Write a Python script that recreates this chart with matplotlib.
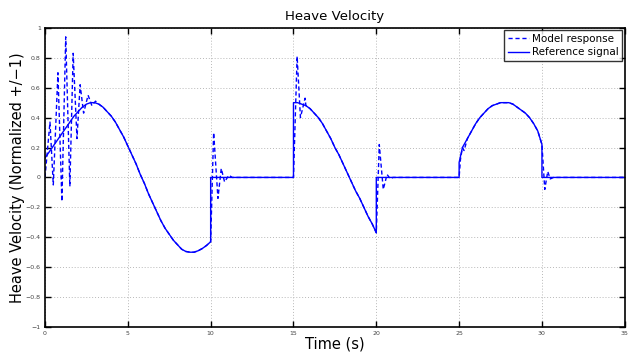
import numpy as np
import matplotlib
matplotlib.use('Agg')
import matplotlib.pyplot as plt

# Reference signal
ref_t = [0.0, 0.25, 0.5, 0.75, 1.0, 1.25, 1.5, 1.75, 2.0, 2.25, 2.5, 2.75, 3.0, 3.25, 3.5,
         3.75, 4.0, 4.25, 4.5, 4.75, 5.0, 5.25, 5.5, 5.75, 6.0, 6.25, 6.5, 6.75, 7.0,
         7.25, 7.5, 7.75, 8.0, 8.25, 8.5, 8.75, 9.0, 9.25, 9.5, 9.75, 10.0, 10.0, 15.0,
         15.0, 15.25, 15.5, 15.75, 16.0, 16.25, 16.5, 16.75, 17.0, 17.25, 17.5, 17.75,
         18.0, 18.25, 18.5, 18.75, 19.0, 19.25, 19.5, 19.75, 20.0, 20.0, 25.0,
         25.0, 25.2, 25.5, 25.75, 26.0, 26.25, 26.5, 26.75, 27.0, 27.25, 27.5, 27.75,
         28.0, 28.25, 28.5, 28.75, 29.0, 29.25, 29.5, 29.75, 30.0, 30.0, 35.0]
ref_v = [0.13, 0.17, 0.21, 0.25, 0.29, 0.33, 0.37, 0.41, 0.44, 0.47, 0.49, 0.50, 0.50, 0.49, 0.47,
         0.44, 0.41, 0.37, 0.32, 0.27, 0.21, 0.15, 0.09, 0.02, -0.04, -0.11, -0.17, -0.23, -0.29,
         -0.34, -0.38, -0.42, -0.45, -0.48, -0.495, -0.50, -0.50, -0.49, -0.475, -0.455, -0.43, 0.0, 0.0,
         0.50, 0.50, 0.49, 0.48, 0.46, 0.43, 0.40, 0.36, 0.31, 0.26, 0.20, 0.15,
         0.09, 0.03, -0.03, -0.09, -0.14, -0.20, -0.26, -0.31, -0.37, 0.0, 0.0,
         0.10, 0.20, 0.26, 0.31, 0.36, 0.40, 0.43, 0.46, 0.48, 0.49, 0.50, 0.50,
         0.50, 0.49, 0.47, 0.45, 0.43, 0.40, 0.36, 0.31, 0.22, 0.0, 0.0]

# Model response: transients after each step, elsewhere it sits on the reference
trans_t = [0.0, 0.30, 0.50, 0.78, 1.02, 1.25, 1.50, 1.70, 1.93, 2.12, 2.33, 2.60, 2.83, 3.05,
           10.0, 10.18, 10.44, 10.64, 10.84, 11.1, 11.3,
           15.0, 15.22, 15.42, 15.7,
           20.0, 20.18, 20.42, 20.65, 20.85, 21.0,
           25.0, 25.08, 25.2, 25.3, 25.45,
           30.0, 30.17, 30.35, 30.5, 30.7]
trans_v = [0.0, 0.37, -0.05, 0.70, -0.16, 0.94, -0.06, 0.83, 0.26, 0.62, 0.43, 0.55, 0.48, 0.51,
           -0.43, 0.30, -0.14, 0.06, -0.03, 0.015, 0.0,
           0.0, 0.81, 0.40, 0.53,
           -0.37, 0.22, -0.08, 0.02, -0.01, 0.0,
           0.0, 0.12, 0.20, 0.18, 0.24,
           0.22, -0.08, 0.04, -0.01, 0.0]
trans_windows = [(0.0, 3.05), (10.0, 11.3), (15.0, 15.7), (20.0, 21.0), (25.0, 25.45), (30.0, 30.7)]

xticks = [0, 5, 10, 15, 20, 25, 30, 35]
yticks = [-1, -0.8, -0.6, -0.4, -0.2, 0, 0.2, 0.4, 0.6, 0.8, 1]
ytick_labels = ['\u22121', '\u22120.8', '\u22120.6', '\u22120.4', '\u22120.2', '0',
                '0.2', '0.4', '0.6', '0.8', '1']

# merge transients with the reference outside the transient windows
rt = np.array(ref_t)
rv = np.array(ref_v)
keep = np.ones(len(rt), dtype=bool)
for a, b in trans_windows:
    keep &= ~((rt >= a) & (rt <= b))
mt = np.concatenate([np.array(trans_t), rt[keep]])
mv = np.concatenate([np.array(trans_v), rv[keep]])
order = np.argsort(mt, kind='stable')
mt, mv = mt[order], mv[order]

fig = plt.figure(figsize=(6.33, 3.53), dpi=100)
ax = fig.add_axes([0.0711, 0.0737, 0.9159, 0.8473])

ax.plot(mt, mv, color='#0000ff', lw=1.0, ls=(0, (3, 2)), label='Model response')
ax.plot(ref_t, ref_v, color='#0000ff', lw=1.0, label='Reference signal')

ax.set_xlim(0, 35)
ax.set_ylim(-1, 1)
ax.set_xticks(xticks)
ax.set_xticklabels([str(x) for x in xticks])
ax.set_yticks(yticks)
ax.set_yticklabels(ytick_labels)
ax.tick_params(direction='in', length=4, width=1, labelsize=4.5, labelcolor='#444444',
               top=True, right=True, pad=3)
ax.grid(True, color='#b8b8b8', ls=(0, (1, 2)), lw=0.7)
for s in ax.spines.values():
    s.set_linewidth(1.2)

ax.set_title('Heave Velocity', fontsize=9.5, pad=6)
ax.set_xlabel('Time (s)', fontsize=10.5, labelpad=0)
ax.set_ylabel('Heave Velocity (Normalized +/\u22121)', fontsize=10.5, labelpad=0.5)

leg = ax.legend(loc='upper right', fontsize=7.5, frameon=True, fancybox=False,
                borderaxespad=0.25, handlelength=2.0, borderpad=0.35, labelspacing=0.3,
                handletextpad=0.3)
leg.get_frame().set_edgecolor('black')
leg.get_frame().set_linewidth(1.0)

fig.savefig('out.png', dpi=100)
